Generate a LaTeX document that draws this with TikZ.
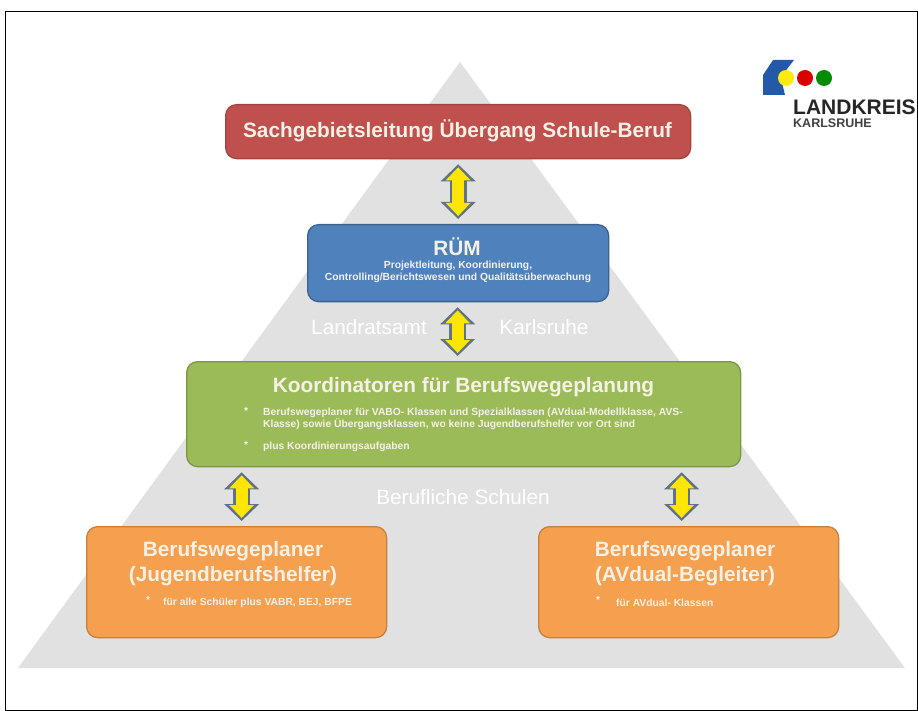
\documentclass[tikz,border=0pt]{standalone}
\usepackage{xcolor}
\usepackage{fontspec}
\setmainfont{Liberation Sans}
\usetikzlibrary{arrows.meta}
\definecolor{pyramide}{HTML}{E1E1E1}
\definecolor{rot}{HTML}{C0504D}
\definecolor{blau}{HTML}{4F81BD}
\definecolor{gruen}{HTML}{9BBB59}
\definecolor{orange}{HTML}{F5A04F}
\definecolor{schrift}{HTML}{F6F1E6}
\definecolor{pfeilrand}{HTML}{5F7288}
\definecolor{pfeilgelb}{HTML}{FFE600}
\definecolor{logoblau}{HTML}{2458A8}
\begin{document}
\begin{tikzpicture}[x=1pt,y=1pt]
        \tikzstyle{every node}+=[inner sep=0pt]
        \tikzstyle{box}=[draw,line width=1.3pt,rounded corners=11pt,anchor=north west]
        \tikzstyle{titel}=[text=schrift,font=\bfseries\fontsize{20.8}{25}\selectfont,align=center]
        \tikzstyle{klein}=[text=schrift,font=\bfseries\fontsize{10.3}{12}\selectfont,anchor=west]
        \tikzstyle{flaeche}=[text=white,font=\fontsize{20.8}{24}\selectfont]
        \tikzstyle{pfeil}=[line width=12pt,pfeilgelb,shorten <=8pt,shorten >=8pt,
                {Triangle[length=13pt,width=24pt]}-{Triangle[length=13pt,width=24pt]},
                preaction={draw=pfeilrand,line width=17pt,shorten <=5pt,shorten >=5pt,
                {Triangle[length=17pt,width=34pt]}-{Triangle[length=17pt,width=34pt]}}]
        \useasboundingbox (0,0) rectangle (918,-711);
        \draw [black,line width=1pt] (5.5,-11.5) rectangle (917.5,-710.5);
        \fill [pyramide] (460,-62) -- (905,-668) -- (18,-668) -- cycle;
        % Kaesten
        \node (leitung) [box,draw=rot!85!black,fill=rot,minimum width=465pt,minimum height=54pt] at (225,-104) {};
        \node (ruem) [box,draw=blau!75!black,fill=blau,minimum width=301pt,minimum height=77pt] at (307,-224) {};
        \node (koord) [box,draw=gruen!80!black,fill=gruen,minimum width=554pt,minimum height=105pt] at (186,-361) {};
        \node (jugend) [box,draw=orange!80!black,fill=orange,minimum width=300pt,minimum height=111pt] at (86,-526) {};
        \node (begleiter) [box,draw=orange!80!black,fill=orange,minimum width=300pt,minimum height=111pt] at (538,-526) {};
        % Texte
        \node (leitungtext) [titel] at (457.5,-131) {Sachgebietsleitung Übergang Schule-Beruf};
        \node (ruemtext) [titel] at (457,-247) {RÜM};
        \node (ruemklein) [klein,anchor=center,align=center] at (458,-272) {Projektleitung, Koordinierung,\\Controlling/Berichtswesen und Qualitätsüberwachung};
        \node (koordtext) [titel] at (463.5,-387) {Koordinatoren für Berufswegeplanung};
        \node (punkta) [klein] at (244,-411) {*};
        \node (koorda) [klein,align=left] at (263,-419) {Berufswegeplaner für VABO- Klassen und  Spezialklassen (AVdual-Modellklasse, AVS-\\Klasse) sowie Übergangsklassen, wo keine Jugendberufshelfer vor Ort sind};
        \node (punktb) [klein] at (244,-445) {*};
        \node (koordb) [klein] at (263,-447) {plus Koordinierungsaufgaben};
        \node (jugendtext) [titel] at (233,-564) {Berufswegeplaner\\(Jugendberufshelfer)};
        \node (punktc) [klein] at (146,-600) {*};
        \node (jugendklein) [klein] at (163,-603) {für alle Schüler plus VABR, BEJ, BFPE};
        \node (begleitertext) [titel] at (685,-564) {Berufswegeplaner\\(AVdual-Begleiter)};
        \node (punktd) [klein] at (596,-600) {*};
        \node (begleiterklein) [klein] at (616,-603) {für AVdual- Klassen};
        % Beschriftung auf der Pyramide
        \node (landratsamt) [flaeche] at (369,-327) {Landratsamt};
        \node (karlsruhe) [flaeche] at (544,-327) {Karlsruhe};
        \node (schulen) [flaeche] at (463,-497) {Berufliche Schulen};
        % Pfeile
        \draw [pfeil] (leitung.south -| ruem.north) -- (ruem.north);
        \draw [pfeil] ([xshift=-0.5pt]ruem.south) -- ([xshift=-0.5pt]ruem.south |- koord.north);
        \draw [pfeil] ([xshift=5pt]jugend.north) -- ([xshift=5pt]jugend.north |- koord.south);
        \draw [pfeil] ([xshift=-7pt]begleiter.north) -- ([xshift=-7pt]begleiter.north |- koord.south);
        % Logo
        \fill [logoblau] (773,-60) -- (794,-60) -- (787,-69) -- (781,-78) -- (785,-95) -- (763,-95) -- (763,-75) -- cycle;
        \fill [yellow!90!orange] (786,-78) circle (8);
        \fill [red!85!black] (805,-78) circle (8);
        \fill [green!55!black] (824,-78) circle (8);
        \node (landkreis) [anchor=west,text=black!85,font=\bfseries\fontsize{21}{21}\selectfont] at (793,-107) {LANDKREIS};
        \node (karlsr) [anchor=west,text=black!75,font=\bfseries\fontsize{12.5}{13}\selectfont] at (793,-123) {KARLSRUHE};
    \end{tikzpicture}
\end{document}
